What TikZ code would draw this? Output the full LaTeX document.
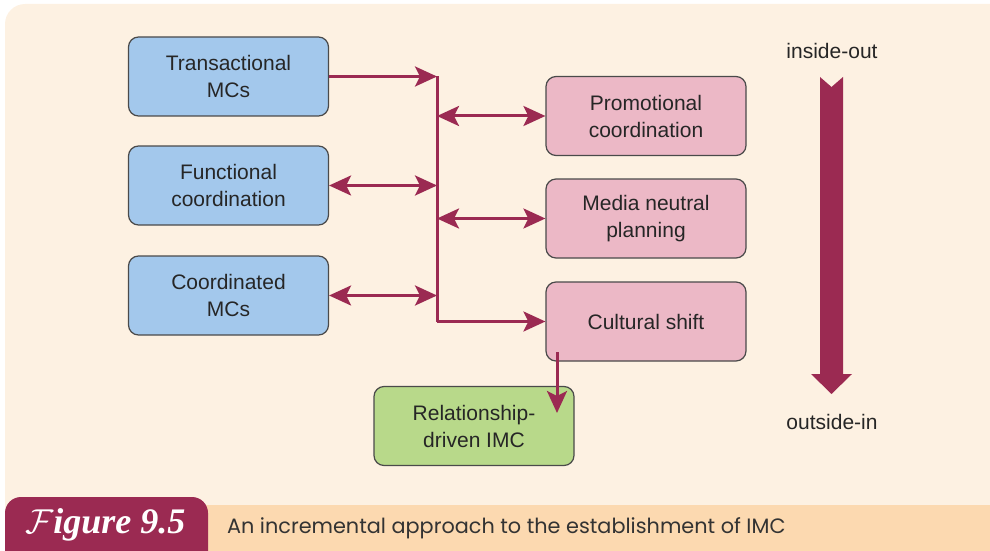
\documentclass[tikz,border=0pt]{standalone}
\usepackage{fontspec}
\setmainfont{Liberation Sans}
\newfontfamily\captionfont{Poppins}
\newfontfamily\badgefont{Liberation Serif}
\usetikzlibrary{arrows.meta}

\definecolor{cream}{HTML}{FDF1E2}
\definecolor{barorange}{HTML}{FCD9B0}
\definecolor{maroon}{HTML}{9B2A52}
\definecolor{boxblue}{HTML}{A3C8EC}
\definecolor{boxpink}{HTML}{ECB8C6}
\definecolor{boxgreen}{HTML}{B8D98A}
\definecolor{edgegray}{HTML}{4A4A4A}

\tikzset{
	stage/.style={draw=edgegray, line width=0.6pt, rounded corners=5pt, minimum width=100pt, minimum height=39.5pt, align=center, font=\fontsize{10.5}{13.5}\selectfont, text=black!85},
	internal/.style={stage, fill=boxblue},
	external/.style={stage, fill=boxpink},
	final/.style={stage, fill=boxgreen},
	link/.style={draw=maroon, line width=1.5pt},
	barb/.tip={Stealth[length=11pt, width=10pt, inset=2.5pt]},
	label/.style={font=\fontsize{10.5}{13.5}\selectfont, text=black!85}
}

\begin{document}
\begin{tikzpicture}[x=0.5pt, y=-0.5pt]
	\useasboundingbox (0,0) rectangle (990,551);
	% background and caption bar
	\fill[cream, rounded corners=10pt] (5,4) rectangle (1010,530);
	\fill[barorange] (150,505) rectangle (990,551);
	\fill[maroon, rounded corners=8pt] (5,497) rectangle (208,570);
	\node[text=white, anchor=west, font=\badgefont\fontsize{18}{20}\selectfont\bfseries\itshape] (badge) at (18,525) {$\mathcal{F}$igure 9.5};
	\node[anchor=west, text=black!80, font=\captionfont\fontsize{10.4}{12}\selectfont] (caption) at (220,528) {An incremental approach to the establishment of IMC};

	% boxes
	\node[internal] (trans) at (228.5,76.5) {Transactional\\MCs};
	\node[internal] (func) at (228.5,185.5) {Functional\\coordination};
	\node[internal] (coord) at (228.5,295.5) {Coordinated\\MCs};
	\node[external] (promo) at (646,116) {Promotional\\coordination};
	\node[external] (media) at (646,218.5) {Media neutral\\planning};
	\node[external] (culture) at (646,321.5) {Cultural shift};
	\node[final] (rel) at (474,426) {Relationship-\\driven IMC};

	% connectors
	\coordinate (jt) at (437,76.5);
	\coordinate (jb) at (437,321.5);
	\draw[link] (jt) -- (jb);
	\draw[link, -{barb}] (trans.east) -- (jt);
	\draw[link, {barb}-{barb}] (promo.west -| jt) -- (promo.west);
	\draw[link, {barb}-{barb}] (func.east) -- (func.east -| jt);
	\draw[link, {barb}-{barb}] (media.west -| jt) -- (media.west);
	\draw[link, {barb}-{barb}] (coord.east) -- (coord.east -| jt);
	\draw[link, -{barb}] (jb) -- (culture.west);
	\coordinate (drop) at (557,352);
	\coordinate (land) at (557,413);
	\draw[link, -{barb}] (drop) -- (land);

	% inside-out / outside-in arrow
	\node[label] (top) at (832,51) {inside-out};
	\node[label] (bottom) at (832,422) {outside-in};
	\fill[maroon] (820,77) -- (831.5,87) -- (843,77) -- (843,374) -- (852,374) -- (831.5,394) -- (811,374) -- (820,374) -- cycle;
\end{tikzpicture}
\end{document}
